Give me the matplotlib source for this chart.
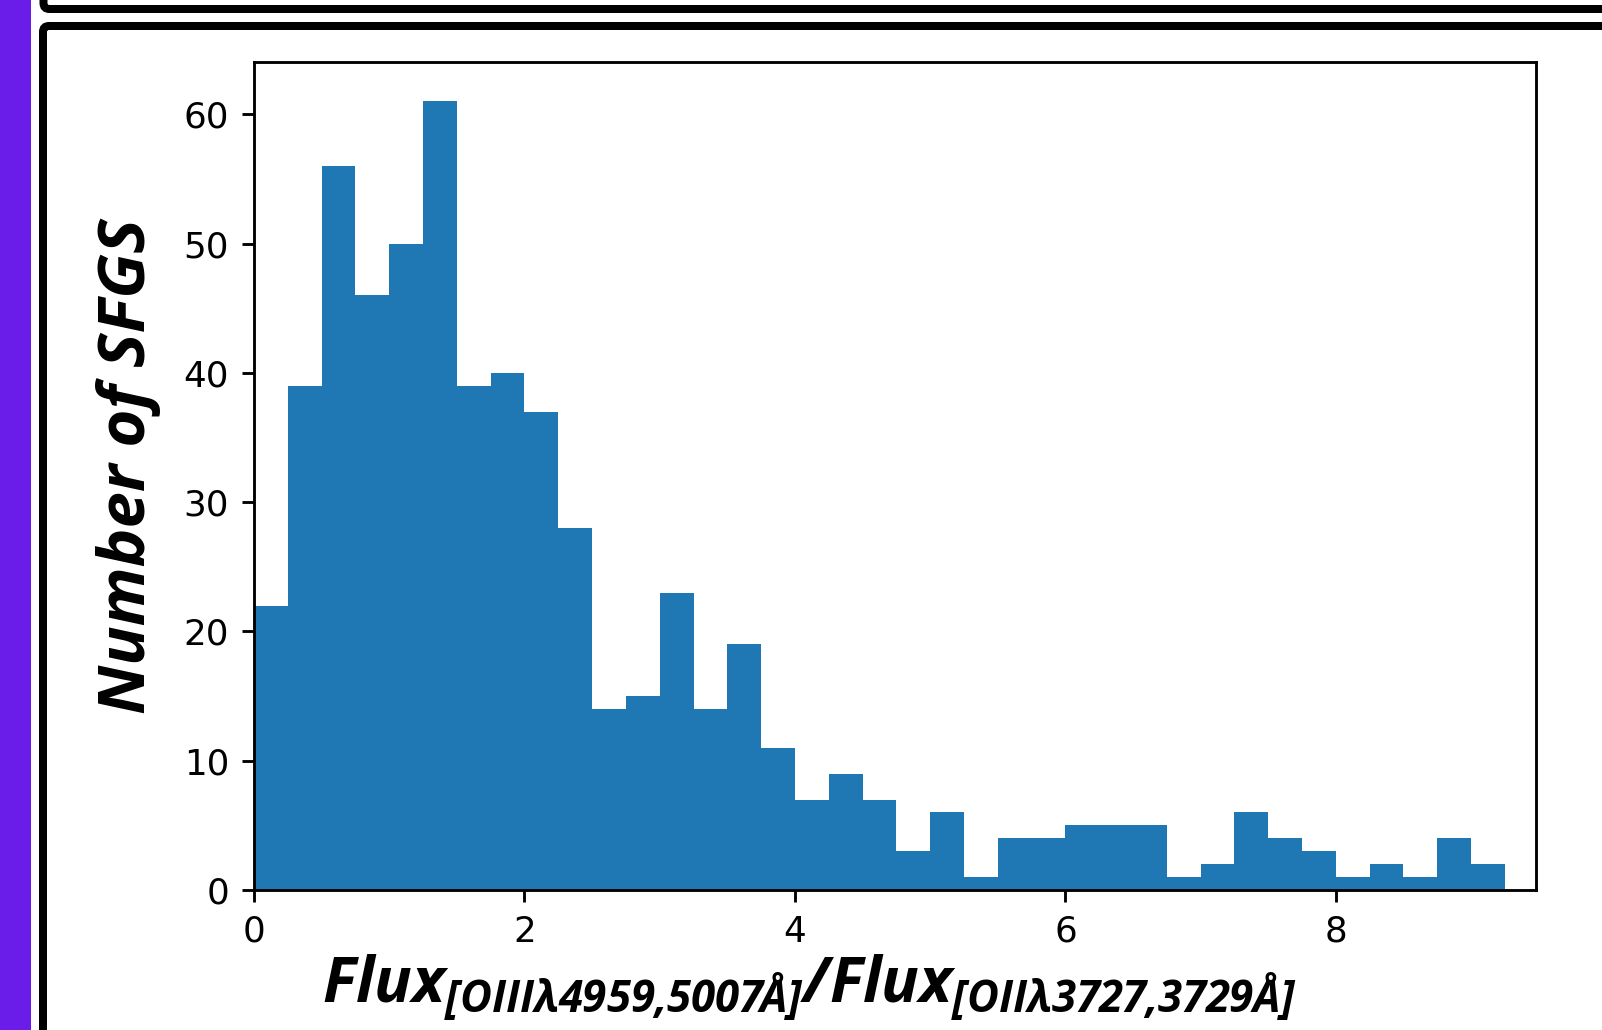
import numpy as np
import matplotlib
matplotlib.use('Agg')
from matplotlib import pyplot as plt
from matplotlib.patches import FancyBboxPatch, Rectangle

# counts per 0.25-wide bin of the [OIII]/[OII] flux ratio
bin_width = 0.25
counts = [22, 39, 56, 46, 50, 61, 39, 40, 37, 28, 14, 15, 23, 14, 19, 11,
          7, 9, 7, 3, 6, 1, 4, 4, 5, 5, 5, 1, 2, 6, 4, 3, 1, 2, 1, 4, 2]
edges = np.arange(len(counts) + 1) * bin_width

x_label = r'$Flux_{[OIII\lambda4959{,}5007\AA]}/Flux_{[OII\lambda3727{,}3729\AA]}$'
y_label = 'Number of SFGS'

label_font = 'Open Sans'
plt.rcParams['mathtext.fontset'] = 'custom'
plt.rcParams['mathtext.rm'] = label_font + ':italic:bold'
plt.rcParams['mathtext.it'] = label_font + ':italic:bold'
plt.rcParams['mathtext.bf'] = label_font + ':italic:bold'

DPI = 257
W, H = 1602, 1030
fig = plt.figure(figsize=(W / DPI, H / DPI), dpi=DPI)

# page furniture behind the plot, in pixel units
bg = fig.add_axes([0, 0, 1, 1], zorder=-1)
bg.set_xlim(0, W)
bg.set_ylim(H, 0)
bg.axis('off')
lw = 8 * 72 / DPI
bg.add_patch(Rectangle((0, 0), 31, H, color='#6a1de9', lw=0))
bg.add_patch(FancyBboxPatch((43.5, -60), 1800, 69,
                            boxstyle='round,pad=0,rounding_size=6',
                            fc='white', ec='black', lw=lw))
bg.add_patch(FancyBboxPatch((43, 26), 1800, 1200,
                            boxstyle='round,pad=0,rounding_size=6',
                            fc='white', ec='black', lw=lw))

ax = fig.add_axes([254 / W, 1 - 890 / H, (1536 - 254) / W, (890 - 62) / H])
ax.hist(edges[:-1], bins=edges, weights=counts, color='#1f77b4')
ax.set_xlim(0, 9.48)

ax.set_xlabel(x_label, fontsize=17.5)
ax.set_ylabel(y_label, fontsize=18.3, family=label_font, fontweight='bold',
              fontstyle='italic')
ax.xaxis.label.set_va('center')
ax.yaxis.label.set_va('center')
ax.xaxis.set_label_coords(0.433, -0.118)
ax.yaxis.set_label_coords(-0.098, 0.512)

fig.savefig('out.png', dpi=DPI)
